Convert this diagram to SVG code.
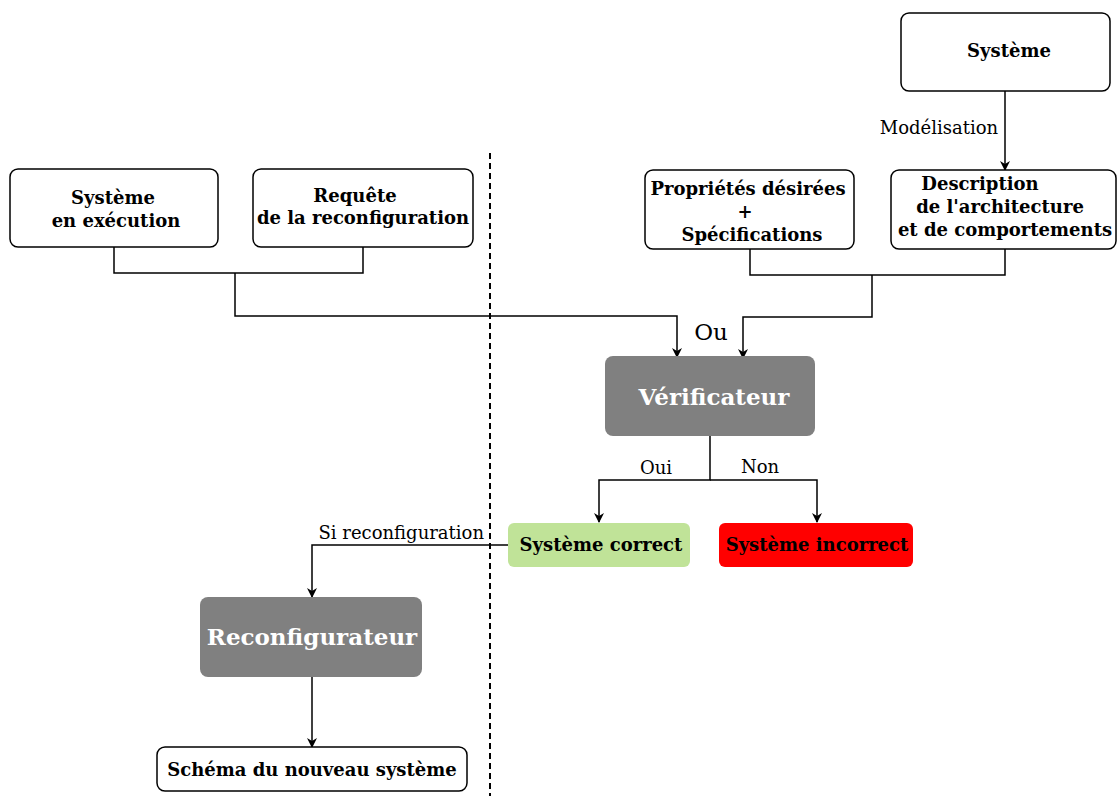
<svg xmlns="http://www.w3.org/2000/svg" width="1118" height="796" viewBox="0 0 1118 796">
<defs>
<marker id="arr" viewBox="0 0 10 10" refX="9" refY="5" markerWidth="10" markerHeight="10" markerUnits="userSpaceOnUse" orient="auto">
<path d="M0,0 L10,5 L0,10 L3,5 Z" fill="#000"/>
</marker>
<style>
.box{fill:#fff;stroke:#000;stroke-width:1.5}
.gray{fill:#808080;stroke:none}
.t{font-family:"DejaVu Serif",serif;font-weight:bold;font-size:18px;text-anchor:middle;fill:#000}
.tw{font-family:"DejaVu Serif",serif;font-weight:bold;font-size:23px;text-anchor:middle;fill:#fff}
.lbl{font-family:"DejaVu Serif",serif;font-size:18px;fill:#000}
.c{fill:none;stroke:#000;stroke-width:1.5}
</style>
</defs>
<rect width="1118" height="796" fill="#fff"/>
<g id="connectors">
<line x1="490" y1="153" x2="490" y2="796" stroke="#000" stroke-width="2" stroke-dasharray="6,4"/>
<path class="c" d="M1005,91 V170" marker-end="url(#arr)"/>
<path class="c" d="M114,247 V273 H363 V247"/>
<path class="c" d="M235,273 V316 H677 V357" marker-end="url(#arr)"/>
<path class="c" d="M750,249 V275 H1005 V249"/>
<path class="c" d="M872,275 V317 H743 V358" marker-end="url(#arr)"/>
<path class="c" d="M710,436 V480 H599 V522" marker-end="url(#arr)"/>
<path class="c" d="M710,480 H817 V522" marker-end="url(#arr)"/>
<path class="c" d="M508,545 H312 V597" marker-end="url(#arr)"/>
<path class="c" d="M312,677 V747" marker-end="url(#arr)"/>
<text class="lbl" x="939" y="134" text-anchor="middle">Modélisation</text>
<text class="lbl" x="711" y="340" text-anchor="middle" style="font-size:23px">Ou</text>
<text class="lbl" x="656" y="474" text-anchor="middle">Oui</text>
<text class="lbl" x="760" y="473" text-anchor="middle">Non</text>
<text class="lbl" x="484" y="539" text-anchor="end">Si reconfiguration</text>
</g>
<g id="systeme">
<rect class="box" x="901" y="13" width="209" height="78" rx="8"/>
<text class="t" x="1009" y="57">Système</text>
</g>
<g id="execution">
<rect class="box" x="10" y="169" width="208" height="78" rx="8"/>
<text class="t" x="113" y="204">Système</text>
<text class="t" x="116" y="227">en exécution</text>
</g>
<g id="requete">
<rect class="box" x="253" y="169" width="220" height="78" rx="8"/>
<text class="t" x="355" y="202">Requête</text>
<text class="t" x="363" y="224">de la reconfiguration</text>
</g>
<g id="proprietes">
<rect class="box" x="645" y="170" width="209" height="79" rx="8"/>
<text class="t" x="748" y="195">Propriétés désirées</text>
<text class="t" x="745" y="218">+</text>
<text class="t" x="752" y="241">Spécifications</text>
</g>
<g id="description">
<rect class="box" x="891" y="170" width="225" height="79" rx="8"/>
<text class="t" x="980" y="190">Description</text>
<text class="t" x="1000" y="213">de l'architecture</text>
<text class="t" x="1005" y="236">et de comportements</text>
</g>
<g id="verificateur">
<rect class="gray" x="605" y="356" width="210" height="80" rx="8"/>
<text class="tw" x="714" y="405">Vérificateur</text>
</g>
<g id="correct">
<rect x="508" y="523" width="182" height="44" rx="6" fill="#c0e398"/>
<text class="t" x="601" y="551">Système correct</text>
</g>
<g id="incorrect">
<rect x="719" y="523" width="194" height="44" rx="6" fill="#ff0000"/>
<text class="t" x="817" y="551">Système incorrect</text>
</g>
<g id="reconfigurateur">
<rect class="gray" x="200" y="597" width="222" height="80" rx="8"/>
<text class="tw" x="312" y="645">Reconfigurateur</text>
</g>
<g id="schema">
<rect class="box" x="157" y="747" width="310" height="44" rx="8"/>
<text class="t" x="312" y="776">Schéma du nouveau système</text>
</g>
</svg>
